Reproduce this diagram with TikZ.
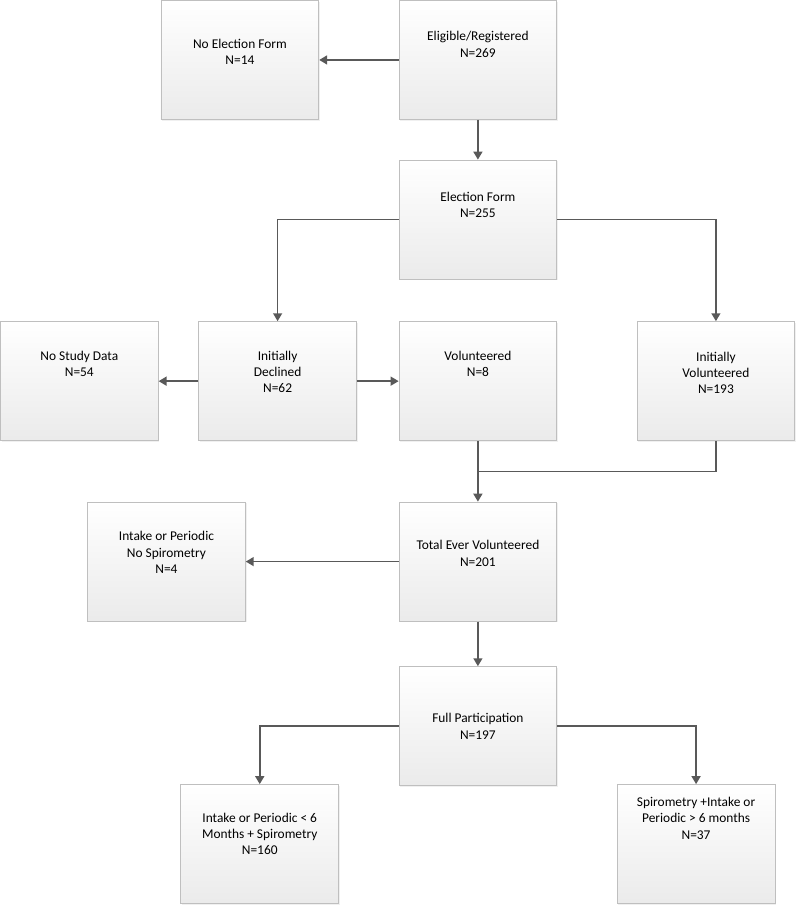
\documentclass[tikz,border=0pt]{standalone}
\usepackage{fontspec}
\setmainfont{Carlito}
\usetikzlibrary{positioning,arrows.meta,shadows,calc}

\begin{document}
\begin{tikzpicture}[
  >={Triangle[length=8pt,width=9pt]}, node distance=40pt and 40pt,
  box/.style={rectangle, draw=gray!50, line width=0.8pt,
              top color=white, bottom color=gray!16,
              drop shadow={opacity=0.12, shadow xshift=1.2pt, shadow yshift=-1.2pt},
              align=center, minimum width=159pt, minimum height=120pt,
              font=\fontsize{13.5}{16.5}\selectfont},
  conn/.style={draw=black!65, line width=1.6pt, ->}
]

\node[box] (elig) {Eligible/Registered\\N=269\\[15pt]};
\node[box, left=80pt of elig] (noform) {No Election Form\\N=14\\[0pt]};
\node[box, below=of elig] (elect) {Election Form\\N=255\\[13pt]};
\node[box, below=42pt of elect] (vol) {Volunteered\\N=8\\[18pt]};
\node[box, left=42pt of vol] (declined) {Initially\\Declined\\N=62\\[2pt]};
\node[box, left=of declined] (nodata) {No Study Data\\N=54\\[18pt]};
\node[box, right=80pt of vol] (initvol) {Initially\\Volunteered\\N=193\\[0pt]};
\node[box, below=61pt of vol] (total) {Total Ever Volunteered\\N=201\\[0pt]};
\node[box, left=154pt of total] (nospiro) {Intake or Periodic\\No Spirometry\\N=4\\[2pt]};
\node[box, below=45pt of total] (full) {Full Participation\\N=197};
\node[box, below left=-2pt and 60pt of full] (short) {Intake or Periodic < 6\\Months + Spirometry\\N=160\\[4pt]};
\node[box, below right=-2pt and 60pt of full] (long) {Spirometry +Intake or\\Periodic > 6 months\\N=37\\[36pt]};

\draw[conn] (elig) -- (noform);
\draw[conn] (elig) -- (elect);
\draw[conn] (elect.west) -| (declined.north);
\draw[conn] (elect.east) -| (initvol.north);
\draw[conn] (declined) -- (nodata);
\draw[conn] (declined) -- (vol);
\coordinate (join) at ($(vol.south)!0.5!(total.north)$);
\draw[conn] (vol) -- (total);
\draw[conn, -] (initvol.south) |- (join);
\draw[conn] (total) -- (nospiro);
\draw[conn] (total) -- (full);
\draw[conn] (full.west) -| (short.north);
\draw[conn] (full.east) -| (long.north);

\coordinate (tl) at (nodata.west |- elig.north);
\coordinate (br) at ($(initvol.east |- short.south) + (3pt,-3pt)$);
\pgfresetboundingbox
\useasboundingbox (tl) rectangle (br);
\end{tikzpicture}
\end{document}
